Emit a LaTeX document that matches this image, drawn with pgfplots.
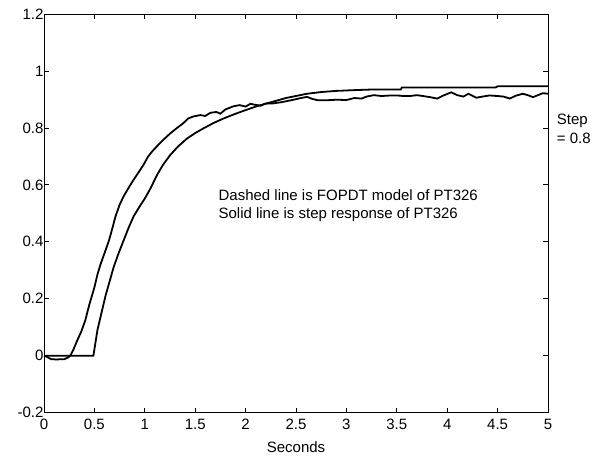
\documentclass[border=0pt]{standalone}
\usepackage{fontspec}
\setmainfont{Liberation Sans}
\usepackage{pgfplots}
\pgfplotsset{compat=1.18}
\newcommand{\fs}{\fontsize{15}{17}\selectfont}
\begin{document}
\begin{tikzpicture}
\begin{axis}[
  at={(0,0)}, anchor=south west,
  scale only axis, width=504pt, height=398.7pt,
  xmin=0, xmax=5, ymin=-0.2, ymax=1.2,
  xtick={0,0.5,...,5}, ytick={-0.2,0,0.2,0.4,0.6,0.8,1,1.2},
  xticklabels={0,0.5,1,1.5,2,2.5,3,3.5,4,4.5,5},
  yticklabels={-0.2,0,0.2,0.4,0.6,0.8,1,1.2},
  tick align=inside, major tick length=5pt,
  tick style={black, line width=0.8pt},
  axis line style={line width=0.9pt},
  /pgf/number format/assume math mode=true,
  ticklabel style={font=\fs},
  xticklabel style={yshift=-3pt},
  yticklabel style={xshift=3pt},
  xlabel={Seconds}, label style={font=\fs},
  xlabel style={yshift=-5pt},
  clip=false,
]
\addplot[black, line width=1.8pt] coordinates {
(0,0) (0.03,-0.004) (0.07,-0.012) (0.12,-0.013) (0.2,-0.012) (0.24,-0.006) (0.26,0)
(0.29,0.02) (0.33,0.054) (0.37,0.085) (0.41,0.125) (0.45,0.18) (0.50,0.24) (0.53,0.285)
(0.56,0.32) (0.6,0.36) (0.645,0.405) (0.68,0.45) (0.71,0.49) (0.75,0.53) (0.79,0.56)
(0.84,0.59) (0.885,0.616) (0.94,0.645) (0.99,0.672) (1.03,0.698) (1.06,0.712) (1.1,0.728)
(1.18,0.757) (1.25,0.78) (1.32,0.80) (1.38,0.816) (1.43,0.833) (1.48,0.84) (1.55,0.845)
(1.6,0.842) (1.65,0.853) (1.71,0.856) (1.75,0.85) (1.8,0.865) (1.88,0.876) (1.94,0.88)
(2.0,0.875) (2.05,0.885) (2.08,0.882) (2.15,0.878) (2.2,0.886) (2.27,0.886) (2.35,0.89)
(2.45,0.897) (2.55,0.905) (2.61,0.909) (2.66,0.902) (2.72,0.897) (2.8,0.897) (2.9,0.899)
(3.0,0.898) (3.08,0.905) (3.15,0.903) (3.2,0.91) (3.27,0.915) (3.35,0.912) (3.44,0.914)
(3.5,0.914) (3.57,0.912) (3.63,0.912) (3.7,0.915) (3.76,0.912) (3.83,0.908) (3.9,0.903)
(3.97,0.915) (4.04,0.925) (4.1,0.915) (4.16,0.91) (4.21,0.92) (4.29,0.906) (4.35,0.91)
(4.42,0.914) (4.5,0.912) (4.56,0.91) (4.62,0.903) (4.68,0.913) (4.75,0.92) (4.8,0.915)
(4.85,0.908) (4.9,0.915) (4.95,0.922) (5.0,0.92)
};
\addplot[black, line width=1.8pt] coordinates {
(0,0) (0.49,0) (0.53,0.09) (0.57,0.15) (0.61,0.21) (0.65,0.26) (0.69,0.31) (0.74,0.36)
(0.79,0.405) (0.84,0.45) (0.89,0.49) (0.95,0.525) (1.00,0.552) (1.06,0.59) (1.12,0.634)
(1.18,0.67) (1.25,0.704) (1.33,0.735) (1.42,0.763) (1.5,0.782) (1.58,0.798) (1.68,0.817)
(1.78,0.833) (1.88,0.847) (1.98,0.86) (2.11,0.876) (2.25,0.89) (2.4,0.905) (2.61,0.92)
(2.75,0.926) (2.9,0.93) (3.1,0.933) (3.27,0.935) (3.54,0.935) (3.55,0.942) (4.48,0.942)
(4.5,0.946) (5,0.946)
};
\node[anchor=base west, font=\fs, inner sep=0pt] at (axis cs:1.73,0.546) {Dashed line is FOPDT model of PT326};
\node[anchor=base west, font=\fs, inner sep=0pt] at (axis cs:1.73,0.481) {Solid line is step response of PT326};
\node[anchor=base west, font=\fs, inner sep=0pt] at (axis cs:5.086,0.813) {Step};
\node[anchor=base west, font=\fs, inner sep=0pt] at (axis cs:5.086,0.746) {= 0.8};
\end{axis}
\path (-44pt,-46.3pt) rectangle (555pt,412.7pt);
\end{tikzpicture}
\end{document}
